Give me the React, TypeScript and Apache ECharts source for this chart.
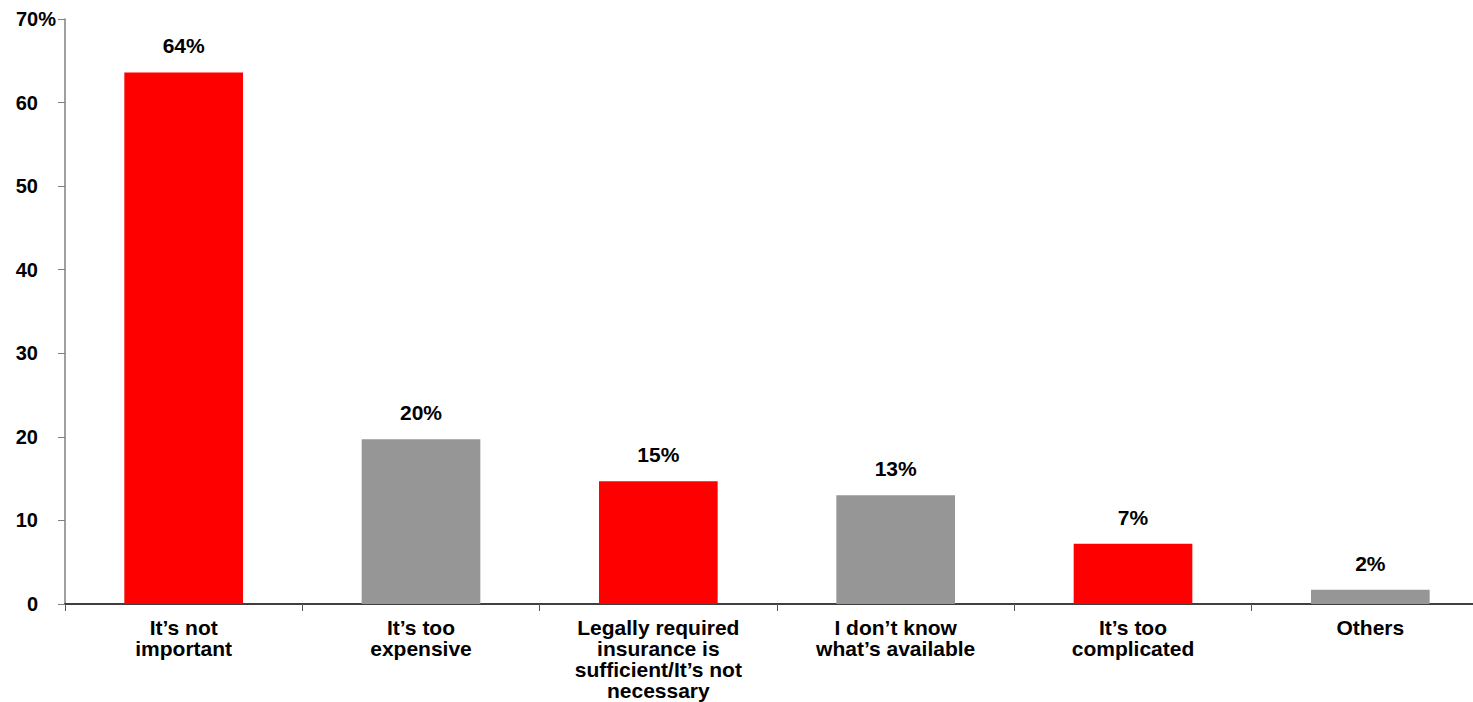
import React, { useEffect, useRef } from "react";
import * as echarts from "echarts";

const categories = [
  "It’s not\nimportant",
  "It’s too\nexpensive",
  "Legally required\ninsurance is\nsufficient/It’s not\nnecessary",
  "I don’t know\nwhat’s available",
  "It’s too\ncomplicated",
  "Others",
];
const values = [63.6, 19.7, 14.7, 13.0, 7.2, 1.7];
const valueLabels = ["64%", "20%", "15%", "13%", "7%", "2%"];
const barColors = ["#FF0000", "#969696", "#FF0000", "#969696", "#FF0000", "#969696"];
const yTopLabel = "70%";

const FONT = 'Arial, "Liberation Sans", Helvetica, sans-serif';

export default function App() {
  const ref = useRef<HTMLDivElement>(null);
  useEffect(() => {
    if (!ref.current) return;
    const chart = echarts.init(ref.current, null, { renderer: "svg" });
    chart.setOption({
      animation: false,
      backgroundColor: "#ffffff",
      grid: { left: 65, top: 19, bottom: 98, right: 0, containLabel: false },
      xAxis: {
        type: "category",
        data: categories,
        boundaryGap: true,
        axisLine: { lineStyle: { color: "#000000", width: 1.5 } },
        axisTick: { show: true, length: 7, interval: 0, lineStyle: { color: "#555555" } },
        axisLabel: {
          interval: 0,
          margin: 13,
          color: "#000000",
          fontFamily: FONT,
          fontWeight: "bold",
          fontSize: 21,
          lineHeight: 21,
        },
      },
      yAxis: {
        type: "value",
        min: 0,
        max: 70,
        interval: 10,
        splitLine: { show: false },
        axisLine: { show: true, lineStyle: { color: "#808080", width: 1.5 } },
        axisTick: { show: true, length: 7, lineStyle: { color: "#808080" } },
        axisLabel: {
          margin: 27,
          color: "#000000",
          fontFamily: FONT,
          fontWeight: "bold",
          fontSize: 20,
          formatter: (v: number) => (v === 70 ? "" : String(v)),
        },
      },
      graphic: [
        {
          type: "text",
          left: 16,
          top: 9,
          style: {
            text: yTopLabel,
            fill: "#000000",
            font: `bold 20px ${FONT}`,
          },
        },
      ],
      series: [
        {
          type: "bar",
          barWidth: "50%",
          data: values.map((v, i) => ({ value: v, itemStyle: { color: barColors[i] } })),
          label: {
            show: true,
            position: "top",
            distance: 16,
            color: "#000000",
            fontFamily: FONT,
            fontWeight: "bold",
            fontSize: 21,
            formatter: (p: any) => valueLabels[p.dataIndex],
          },
        },
      ],
    });
    return () => chart.dispose();
  }, []);
  return (
    <div
      style={{
        position: "fixed",
        left: 0,
        top: 0,
        width: 1473,
        height: 702,
        overflow: "hidden",
        background: "#fff",
      }}
    >
      <div ref={ref} style={{ width: 1489, height: 702 }} />
    </div>
  );
}
